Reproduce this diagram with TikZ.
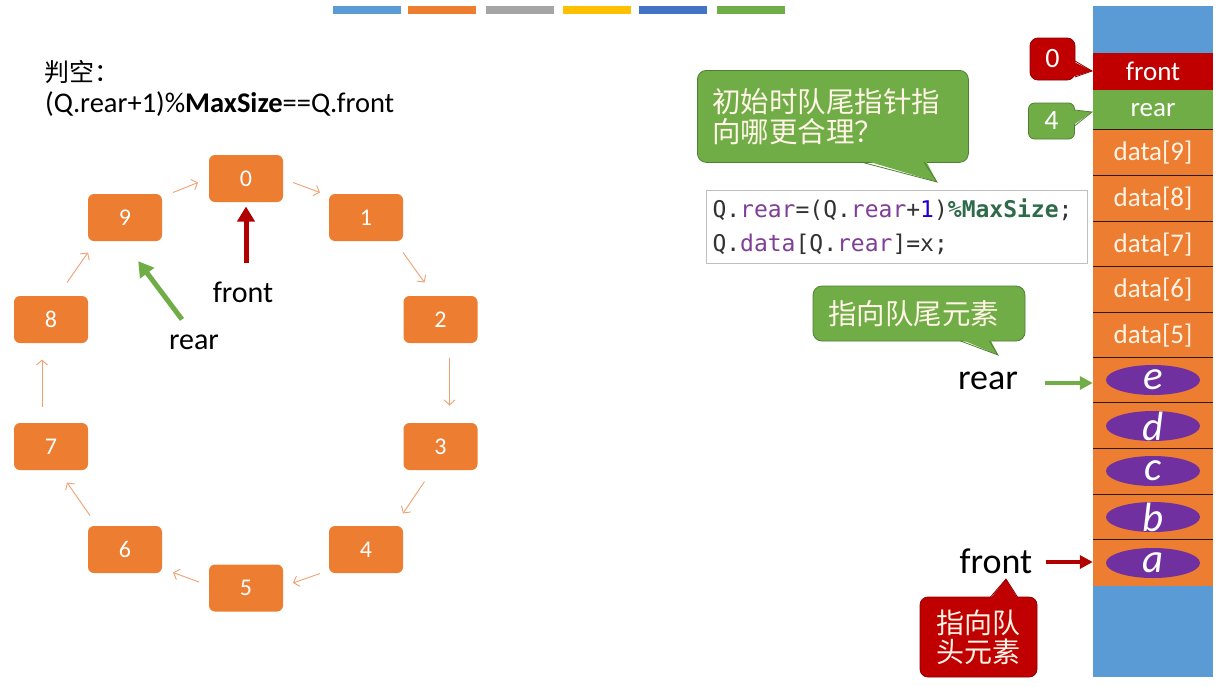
\documentclass[tikz,border=0pt]{standalone}
\usepackage{fontspec}
\setmainfont{Carlito}
\newfontfamily\cjk{Noto Sans CJK SC}
\newfontfamily\codefont{DejaVu Sans Mono}
\usetikzlibrary{calc,arrows.meta,shapes.geometric}
\definecolor{qorange}{HTML}{ED7D31}
\definecolor{qblue}{HTML}{5B9BD5}
\definecolor{qred}{HTML}{C00000}
\definecolor{qgreen}{HTML}{70AD47}
\definecolor{qpurple}{HTML}{7030A0}
\definecolor{qgray}{HTML}{A5A5A5}
\definecolor{qyellow}{HTML}{FFC000}
\definecolor{qdblue}{HTML}{4472C4}
\definecolor{ringline}{HTML}{F0A070}
\definecolor{cream}{HTML}{FFF4E6}
\definecolor{codepurple}{HTML}{7F3F98}
\definecolor{codeblue}{HTML}{1C00CF}
\definecolor{codegreen}{HTML}{2F6B4A}
\definecolor{codegray}{HTML}{333333}
\definecolor{gborder}{HTML}{507E32}
\definecolor{rborder}{HTML}{8B0000}
\definecolor{celline}{HTML}{2B1A10}
\definecolor{arrred}{HTML}{B00000}
\begin{document}
\begin{tikzpicture}[x=1pt,y=-1pt,
  ringbox/.style={fill=qorange, rounded corners=6pt, minimum width=74pt, minimum height=47pt, inner sep=0pt, text=white, font=\fontsize{24}{26}\selectfont},
  ring/.style={draw=ringline, line width=0.9pt, -{Straight Barb[length=5pt,width=11pt]}},
  cell/.style={minimum width=120pt, inner sep=0pt, text=cream, font=\fontsize{27}{30}\selectfont},
  oval/.style={ellipse, fill=qpurple, minimum width=94pt, minimum height=30pt, inner sep=0pt},
  letter/.style={text=white, inner sep=0pt, font=\fontsize{41}{43}\selectfont\itshape},
  bar/.style={inner sep=0pt, minimum width=68pt, minimum height=8pt},
  gcall/.style={fill=qgreen, draw=gborder, line width=0.8pt, rounded corners=9pt, text=cream, font=\cjk\fontsize{28.5}{30}\selectfont},
  rcall/.style={fill=qred, draw=rborder, line width=0.8pt, rounded corners=8pt, text=cream},
  bigarrow/.style={line width=5pt, -{Triangle[length=15pt,width=17pt]}},
  midarrow/.style={line width=3.5pt, -{Triangle[length=13pt,width=13pt]}},
  lbl/.style={inner sep=0pt, text=black}
]
\useasboundingbox (0,0) rectangle (1223,686);

% top colour bars
\node[bar, fill=qblue]   (b1) at (367,10) {};
\node[bar, fill=qorange] (b2) at (442,10) {};
\node[bar, fill=qgray]   (b3) at (520,10) {};
\node[bar, fill=qyellow] (b4) at (596.5,10) {};
\node[bar, fill=qdblue]  (b5) at (673,10) {};
\node[bar, fill=qgreen]  (b6) at (751,10) {};

% title
\node[lbl, anchor=west, font=\cjk\fontsize{25}{28}\selectfont] (t1) at (44,72) {判空：};
\node[lbl, anchor=west, font=\fontsize{28.5}{30}\selectfont] (t2) at (45,104) {(Q.rear+1)\%\textbf{MaxSize}==Q.front};

% ring
\node[ringbox] (n0) at (246,178.5) {0};
\node[ringbox] (n1) at (366,217.5) {1};
\node[ringbox] (n2) at (440.5,319.5) {2};
\node[ringbox] (n3) at (440.5,446.5) {3};
\node[ringbox] (n4) at (366,549.5) {4};
\node[ringbox] (n5) at (246,588) {5};
\node[ringbox] (n6) at (125,549.5) {6};
\node[ringbox] (n7) at (51,446.5) {7};
\node[ringbox] (n8) at (51,319.5) {8};
\node[ringbox] (n9) at (125,217.5) {9};

\draw[ring] ($(n9)+(48,-25)$) -- ($(n0)+(-48,4)$);
\draw[ring] ($(n0)+(47,4)$) -- ($(n1)+(-46,-25)$);
\draw[ring] ($(n1)+(37,35)$) -- ($(n2)+(-16,-37)$);
\draw[ring] ($(n2)+(9,38)$) -- ($(n3)+(9,-41)$);
\draw[ring] ($(n3)+(-16,35)$) -- ($(n4)+(37,-36)$);
\draw[ring] ($(n4)+(-46,24)$) -- ($(n5)+(47,-5)$);
\draw[ring] ($(n5)+(-47,-6)$) -- ($(n6)+(48,23)$);
\draw[ring] ($(n6)+(-35,-34)$) -- ($(n7)+(16,36)$);
\draw[ring] ($(n7)+(-9,-40)$) -- ($(n8)+(-9,40)$);
\draw[ring] ($(n8)+(16,-37)$) -- ($(n9)+(-37,35)$);

\node[lbl, font=\fontsize{30}{32}\selectfont] (lfront) at (243,292) {front};
\node[lbl, font=\fontsize{30}{32}\selectfont] (lrear) at (194,342) {rear};
\draw[bigarrow, draw=arrred, fill=arrred] ($(n0)+(0,84)$) -- ($(n0)+(0,28)$);
\draw[bigarrow, draw=qgreen, fill=qgreen] ($(lrear.north)+(-12,-15)$) -- ($(n9.south east)+(-24,20)$);

% column
\node[cell, fill=qblue,   minimum height=47pt] (ctop) at (1153,29.5) {};
\node[cell, fill=qred,    minimum height=37pt, text=white] (cfront) at (1153,71.5) {front};
\node[cell, fill=qgreen,  minimum height=40pt, text=white] (crear) at (1153,110) {rear};
\node[cell, fill=qorange, minimum height=46pt] (c9) at (1153,153) {data[9]};
\node[cell, fill=qorange, minimum height=46pt] (c8) at (1153,199) {data[8]};
\node[cell, fill=qorange, minimum height=45pt] (c7) at (1153,244.5) {data[7]};
\node[cell, fill=qorange, minimum height=46pt] (c6) at (1153,290) {data[6]};
\node[cell, fill=qorange, minimum height=45pt] (c5) at (1153,335.5) {data[5]};
\node[cell, fill=qorange, minimum height=45pt] (c4) at (1153,380.5) {};
\node[cell, fill=qorange, minimum height=46pt] (c3) at (1153,426) {};
\node[cell, fill=qorange, minimum height=46pt] (c2) at (1153,472) {};
\node[cell, fill=qorange, minimum height=45pt] (c1) at (1153,517.5) {};
\node[cell, fill=qorange, minimum height=46pt] (c0) at (1153,563) {};
\node[cell, fill=qblue,   minimum height=91pt] (cbot) at (1153,631.5) {};
\foreach \c in {c9,c8,c7,c6,c5,c4,c3,c2,c1,c0}
  \draw[celline, line width=1.3pt] (\c.north west) -- (\c.north east);

\node[oval] (oe) at (1153,380) {};
\node[oval] (od) at (1153,426) {};
\node[oval] (oc) at (1153,471) {};
\node[oval] (ob) at (1153,517) {};
\node[oval] (oa) at (1153,563) {};
\node[letter] at (oe) {e};
\node[letter] at (od) {d};
\node[letter] at (oc) {c};
\node[letter] at (ob) {b};
\node[letter] at (oa) {a};

% value callouts
\node[rcall, minimum width=45pt, minimum height=42pt, inner sep=0pt, text=white, font=\fontsize{28}{30}\selectfont] (v0) at (1052.5,59) {0};
\fill[qred] (1072,61) -- (1092,71) -- (1072,77) -- cycle;
\draw[rborder, line width=0.8pt] (1075,61) -- (1092,71) -- (1075,77);
\node[gcall, rounded corners=6pt, minimum width=46pt, minimum height=36pt, inner sep=0pt, text=white, font=\fontsize{28}{30}\selectfont] (v4) at (1051.5,121) {4};
\fill[qgreen] (1072,110) -- (1092,112) -- (1072,126) -- cycle;
\draw[gborder, line width=0.8pt] (1074.5,110) -- (1092,112) -- (1074.5,126);

% question callout
\node[gcall, anchor=north west, minimum width=271pt, minimum height=92pt, inner xsep=15pt, inner ysep=0pt, text width=241pt, align=left] (q1) at (697,70) {初始时队尾指针指\\向哪更合理？};
\fill[qgreen] (860,159) -- (937,182) -- (925,159) -- cycle;
\draw[gborder, line width=0.8pt] (861,162) -- (937,182) -- (924,162);

% code
\node[draw=black!25, line width=1pt, fill=white, anchor=north west, minimum width=381pt, minimum height=73pt, inner xsep=6pt, inner ysep=6pt, text width=369pt, align=left, text=codegray, font=\codefont\fontsize{23}{34}\selectfont] (code) at (706,190)
{Q.\textcolor{codepurple}{rear}=(Q.\textcolor{codepurple}{rear}+\textcolor{codeblue}{1})\textcolor{codegreen}{\bfseries\%MaxSize};\\
Q.\textcolor{codepurple}{data}[Q.\textcolor{codepurple}{rear}]=x;};

% tail callout
\node[gcall, minimum width=212pt, minimum height=55pt, inner xsep=15pt, inner ysep=0pt, text width=182pt, align=left] (q2) at (919,313.5) {指向队尾元素};
\fill[qgreen] (960,339) -- (998,355) -- (990,339) -- cycle;
\draw[gborder, line width=0.8pt] (960.5,341) -- (998,355) -- (989.5,341);

% right labels and arrows
\node[lbl, font=\fontsize{36}{38}\selectfont] (rrear) at (988,381) {rear};
\node[lbl, font=\fontsize{36}{38}\selectfont] (rfront) at (996,561) {front};
\draw[midarrow, draw=qgreen] ($(rrear.east)+(27,2)$) -- (c4.west |- 0,383);
\draw[midarrow, draw=arrred] ($(rfront.east)+(13,1)$) -- (c0.west |- 0,562);

% head callout
\node[rcall, minimum width=117pt, minimum height=80pt, inner sep=0pt, align=center, font=\cjk\fontsize{28}{29}\selectfont] (q3) at (978.5,637) {指向队\\头元素};
\fill[qred] (990,599) -- (1006,579) -- (1018,599) -- cycle;
\draw[rborder, line width=0.8pt] (990.5,597) -- (1006,579) -- (1017.5,597);
\end{tikzpicture}
\end{document}
